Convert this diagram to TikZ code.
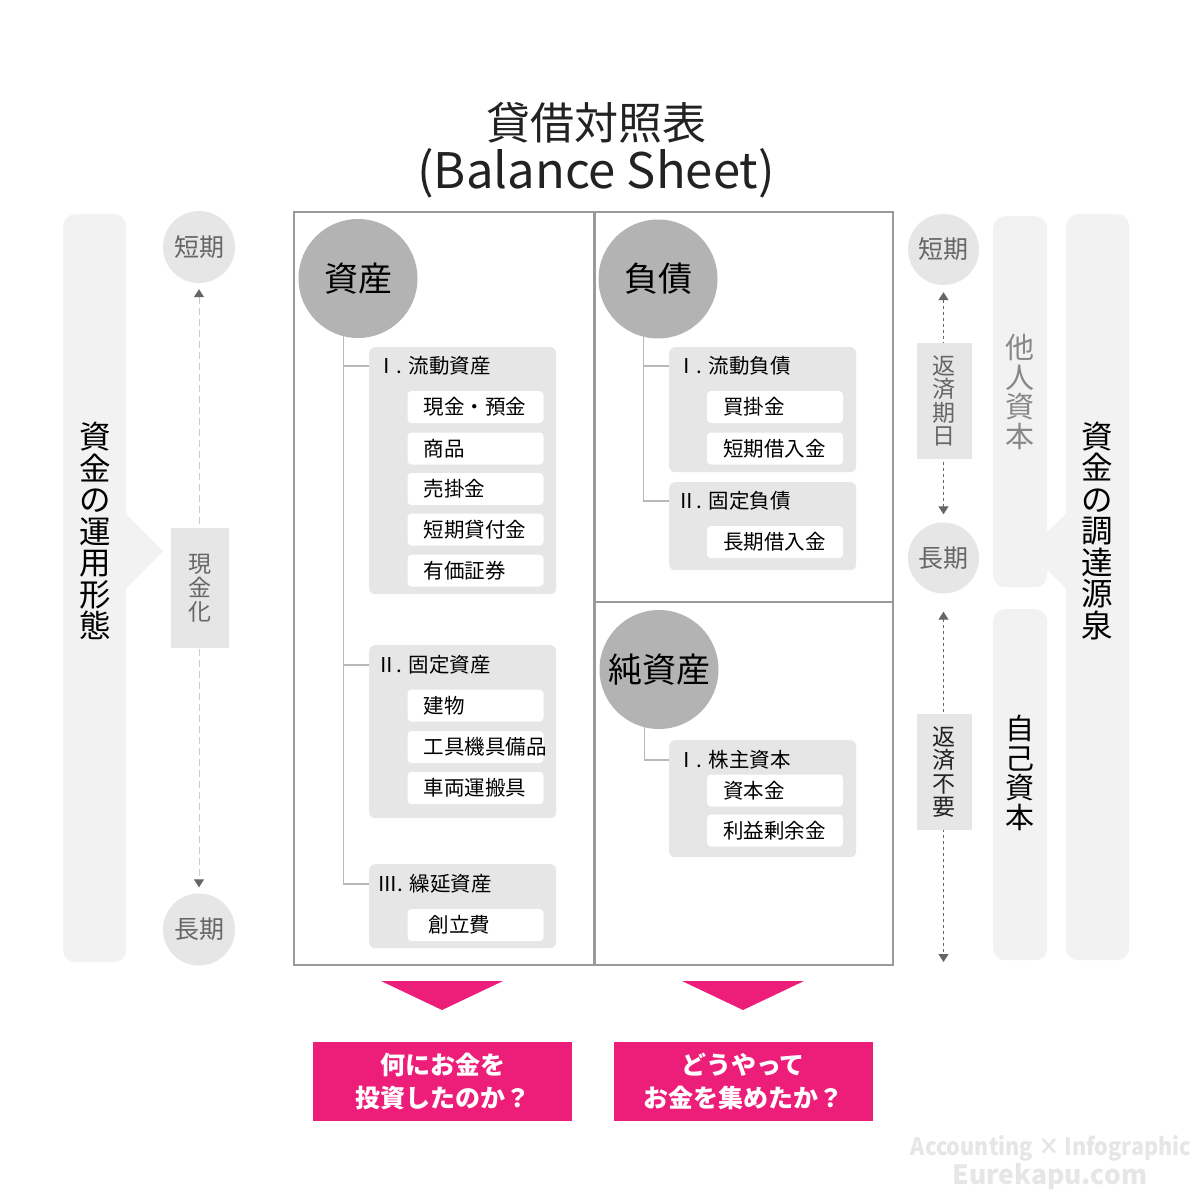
\documentclass[tikz,border=0pt]{standalone}
\usepackage{fontspec}
\setmainfont{Noto Sans CJK JP}
\usepackage{graphicx}
\usetikzlibrary{arrows.meta}
\definecolor{barfill}{HTML}{F2F2F2}
\definecolor{lightc}{HTML}{E6E6E6}
\definecolor{bigc}{HTML}{B3B3B3}
\definecolor{framec}{HTML}{9A9A9A}
\definecolor{treec}{HTML}{B8B8B8}
\definecolor{txtgray}{HTML}{666666}
\definecolor{othergray}{HTML}{888888}
\definecolor{ldashc}{HTML}{CCCCCC}
\definecolor{pinkc}{HTML}{ED1E79}
\definecolor{wmark}{HTML}{E6E6E6}
\definecolor{titlec}{HTML}{222222}
\newcommand\fs[2]{\fontsize{#1pt}{#2pt}\selectfont}
\newcommand\itm[5][16]{\node[itembox] (#2) at (#3,#4) {}; \node[itemtext] at ([xshift=#1pt]#2.west) {#5};}
\begin{document}
\begin{tikzpicture}[x=1pt,y=-1pt,
  bar/.style={fill=barfill, rounded corners=12pt, draw=none, inner sep=0pt, anchor=north west},
  bigcircle/.style={circle, fill=bigc, minimum size=119pt, inner sep=0pt, font=\fs{34}{34}, text=black},
  smallcircle/.style={circle, fill=lightc, minimum size=72pt, inner sep=0pt, text=txtgray, font=\fs{25}{25}},
  frame/.style={draw=framec, line width=1.6pt, inner sep=0pt, anchor=north west},
  grp/.style={fill=lightc, rounded corners=6pt, inner sep=0pt, minimum width=187pt, anchor=north west},
  itembox/.style={fill=white, rounded corners=4pt, minimum width=136pt, minimum height=32pt, inner sep=0pt},
  itemtext/.style={font=\fs{20.5}{21}, inner sep=0pt, anchor=west},
  grptitle/.style={font=\fs{20.5}{21}, inner sep=0pt, anchor=west},
  tree/.style={draw=treec, line width=1.8pt},
  vbox/.style={fill=lightc, inner sep=0pt, align=center},
  vtext/.style={align=center, inner sep=0pt},
  ldash/.style={draw=ldashc, line width=1pt, dash pattern=on 7pt off 4pt, shorten <=6pt, shorten >=6pt, <->, >={Triangle[width=10pt,length=8pt,color=txtgray]}},
  rdash/.style={draw=txtgray, line width=1pt, dash pattern=on 3pt off 3pt, <->, >={Triangle[width=10pt,length=8pt,color=txtgray]}},
  pinkbox/.style={fill=pinkc, text=white, align=center, font=\bfseries\fs{25}{33}, minimum width=259pt, minimum height=79pt, inner sep=0pt}
]
\fill[white] (0,0) rectangle (1200,1200);
\useasboundingbox (0,0) rectangle (1200,1200);

% title
\node[font=\fs{44}{44}, text=titlec] (title1) at (596,123) {貸借対照表};
\node[font=\fs{49}{49}, text=titlec] (title2) at (596,173) {(Balance Sheet)};

% left side
\node[bar, minimum width=63pt, minimum height=748pt] (lbar) at (63,214) {};
\fill[barfill] (125,513) -- (163,551) -- (125,590) -- cycle;
\node[vtext, font=\fs{31.5}{31.5}] (ltext) at (95,531) {資\\金\\の\\運\\用\\形\\態};
\node[smallcircle] (ls) at (199,247) {短期};
\node[smallcircle] (ll) at (199,929.5) {長期};
\draw[ldash] (ls) -- (ll);
\node[vbox, minimum width=58pt, minimum height=120pt, text=txtgray, font=\fs{23}{24}] (lcash) at (200,588) {現\\金\\化};

% frames
\node[frame, minimum width=300pt, minimum height=753pt] (fa) at (293,211) {};
\node[frame, minimum width=298pt, minimum height=390pt] (fl) at (594,211) {};
\node[frame, minimum width=298pt, minimum height=363pt] (fe) at (594,601) {};

% big circles
\node[bigcircle] (assets) at (358,278.5) {資産};
\node[bigcircle] (liab) at (658,279) {負債};
\node[bigcircle] (equity) at (659,669.5) {純資産};

% asset groups
\node[grp, minimum height=247pt] (g1) at (369,347) {};
\node[grp, minimum height=173pt] (g2) at (369,645) {};
\node[grp, minimum height=84pt] (g3) at (369,864) {};
\node[grptitle] (t1) at (376,366) {Ⅰ. 流動資産};
\node[grptitle] (t2) at (376,665) {Ⅱ. 固定資産};
\node[grptitle] (t3) at (377,884) {Ⅲ. 繰延資産};
\draw[tree] (assets.256) |- (g1.west|-t1.west);
\draw[tree] (assets.256) |- (g2.west|-t2.west);
\draw[tree] (assets.256) |- (g3.west|-t3.west);
\itm{a1}{475.5}{407}{現金・預金}
\itm{a2}{475.5}{448.5}{商品}
\itm{a3}{475.5}{489}{売掛金}
\itm{a4}{475.5}{529.5}{短期貸付金}
\itm{a5}{475.5}{570.5}{有価証券}
\itm{b1}{475.5}{705.5}{建物}
\itm{b2}{475.5}{747}{工具機具備品}
\itm{b3}{475.5}{788}{車両運搬具}
\itm[21]{c1}{475.5}{925}{創立費}

% liabilities
\node[grp, minimum height=125pt] (g4) at (669,347) {};
\node[grp, minimum height=88pt] (g5) at (669,482) {};
\node[grptitle] (t4) at (676,366) {Ⅰ. 流動負債};
\node[grptitle] (t5) at (676,501) {Ⅱ. 固定負債};
\draw[tree] (liab.256) |- (g4.west|-t4.west);
\draw[tree] (liab.256) |- (g5.west|-t5.west);
\itm{d1}{775}{407}{買掛金}
\itm{d2}{775}{448.5}{短期借入金}
\itm{e1}{775}{542}{長期借入金}

% equity
\node[grp, minimum height=117pt] (g6) at (669,740) {};
\node[grptitle] (t6) at (676,760) {Ⅰ. 株主資本};
\draw[tree] (equity.256) |- (g6.west|-t6.west);
\itm{f1}{775}{790.5}{資本金}
\itm{f2}{775}{830.5}{利益剰余金}

% right side
\node[smallcircle, minimum size=71pt] (rs) at (943.5,249.5) {短期};
\node[smallcircle, minimum size=71pt] (rl) at (943.5,558) {長期};
\coordinate (rend) at (943.5,962);
\draw[rdash, shorten <=7pt, shorten >=8pt] (rs) -- (rl);
\draw[rdash, shorten <=18pt] (rl) -- (rend);
\node[vbox, minimum width=55pt, minimum height=116pt, text=txtgray, font=\fs{23}{23.5}] (due) at (944,401) {返\\済\\期\\日};
\node[vbox, minimum width=55pt, minimum height=116pt, text=titlec, font=\fs{23}{23.5}] (noneed) at (944,772) {返\\済\\不\\要};

\node[bar, minimum width=54pt, minimum height=371pt] (other) at (993,216) {};
\node[vtext, font=\fs{29}{29.5}, text=othergray] (othertext) at (1020,392) {他\\人\\資\\本};
\node[bar, minimum width=54pt, minimum height=351pt] (own) at (993,609) {};
\node[vtext, font=\fs{29}{29.5}, text=black] (owntext) at (1020,773) {自\\己\\資\\本};
\node[bar, minimum width=63pt, minimum height=746pt] (src) at (1066,214) {};
\fill[barfill] (1067,513) -- (1027,551) -- (1067,589) -- cycle;
\node[vtext, font=\fs{31.5}{31.5}] (srctext) at (1097,531) {資\\金\\の\\調\\達\\源\\泉};

% pink
\fill[pinkc] (381,981) -- (503,981) -- (442,1010) -- cycle;
\fill[pinkc] (682,981) -- (804,981) -- (743,1010) -- cycle;
\node[pinkbox] (q1) at (442.5,1081.5) {何にお金を\\投資したのか？};
\node[pinkbox] (q2) at (743,1081.5) {どうやって\\お金を集めたか？};

% watermark
\node[text=wmark, font=\bfseries\fs{24}{24}, inner sep=0pt] (wm1) at (1051,1148) {\scalebox{0.9}[1]{Accounting × Infographic}};
\node[text=wmark, font=\bfseries\fs{26.5}{26.5}, inner sep=0pt] (wm2) at (1050,1177) {Eurekapu.com};
\end{tikzpicture}
\end{document}
